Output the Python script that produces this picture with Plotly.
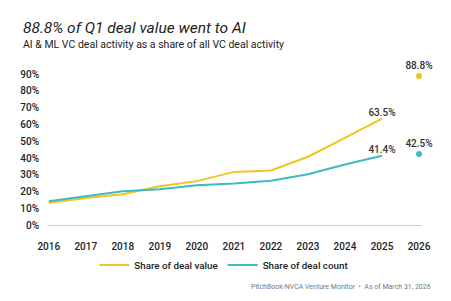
import plotly.graph_objects as go

years = [2016, 2017, 2018, 2019, 2020, 2021, 2022, 2023, 2024, 2025]
deal_value = [13.3, 16.3, 18.5, 23.3, 26.3, 31.8, 32.6, 40.8, 52.0, 63.5]
deal_count = [14.3, 17.5, 20.3, 21.5, 23.9, 24.9, 26.5, 30.4, 36.2, 41.4]
ytd_year = [2026]
ytd_value = [88.8]
ytd_count = [42.5]
x_ticks = list(range(2016, 2027))
y_ticks = list(range(0, 100, 10))

YELLOW = "#F2C41E"
TEAL = "#3DBAC2"
FONT = "Roboto"

def lab(vals):
    return [""] * (len(vals) - 1) + [f"{vals[-1]:.1f}%"]

lblfont = dict(size=10, color="#333", family=FONT, weight=500)

fig = go.Figure()
fig.add_trace(go.Scatter(x=years, y=deal_value, mode="lines+text", name="Share of deal value",
                         line=dict(color=YELLOW, width=2), text=lab(deal_value),
                         textposition="top center", cliponaxis=False, textfont=lblfont))
fig.add_trace(go.Scatter(x=years, y=deal_count, mode="lines+text", name="Share of deal count",
                         line=dict(color=TEAL, width=2), text=lab(deal_count),
                         textposition="top center", cliponaxis=False, textfont=lblfont))
fig.add_trace(go.Scatter(x=ytd_year, y=ytd_value, mode="markers+text", showlegend=False,
                         marker=dict(color=YELLOW, size=6), text=[f"{v:.1f}%" for v in ytd_value],
                         textposition="top center", cliponaxis=False, textfont=lblfont))
fig.add_trace(go.Scatter(x=ytd_year, y=ytd_count, mode="markers+text", showlegend=False,
                         marker=dict(color=TEAL, size=6), text=[f"{v:.1f}%" for v in ytd_count],
                         textposition="top center", cliponaxis=False, textfont=lblfont))

plot_top, plot_bottom = 64, 74
plot_h = 301 - plot_top - plot_bottom
def ypaper(py):
    return (plot_top + plot_h - py) / plot_h
def xpaper(px):
    return (px - 47.5) / 374.5

fig.update_layout(
    width=451, height=301,
    margin=dict(l=47.5, r=29, t=plot_top, b=plot_bottom, autoexpand=False),
    plot_bgcolor="white", paper_bgcolor="white",
    font=dict(family=FONT, color="#222"),
    showlegend=True,
    legend=dict(orientation="h", xref="paper", x=xpaper(224), xanchor="center",
                yref="paper", y=ypaper(265), yanchor="middle",
                font=dict(size=9.8, color="#222", family=FONT, weight=500),
                itemwidth=30, tracegroupgap=0),
    xaxis=dict(range=[2015.98, 2026.08], tickvals=x_ticks, showgrid=False, zeroline=False,
               showline=False, ticks="", ticklabelstandoff=12,
               tickfont=dict(size=10, color="#222", family=FONT, weight=500)),
    yaxis=dict(range=[-1, 96], tickvals=y_ticks, ticktext=[f"{v}%" for v in y_ticks],
               showgrid=False, zeroline=True, zerolinecolor="#cccccc", zerolinewidth=1,
               showline=False, ticks="", ticklabelstandoff=8,
               tickfont=dict(size=10, color="#222", family=FONT, weight=500)),
)

fig.add_annotation(text="<i>88.8% of Q1 deal value went to AI</i>", xref="paper", yref="paper",
                   x=xpaper(20), y=ypaper(28), showarrow=False, xanchor="left",
                   yanchor="middle", font=dict(size=15.5, color="#222", family=FONT))
fig.add_annotation(text="AI & ML VC deal activity as a share of all VC deal activity",
                   xref="paper", yref="paper", x=xpaper(20), y=ypaper(44),
                   showarrow=False, xanchor="left", yanchor="middle",
                   font=dict(size=10.5, color="#222", family=FONT))
fig.add_annotation(text="PitchBook-NVCA Venture Monitor  •  As of March 31, 2026",
                   xref="paper", yref="paper", x=xpaper(433), y=ypaper(287),
                   showarrow=False, xanchor="right", yanchor="middle",
                   font=dict(size=7, color="#777", family=FONT))

fig.write_html("out.html")
